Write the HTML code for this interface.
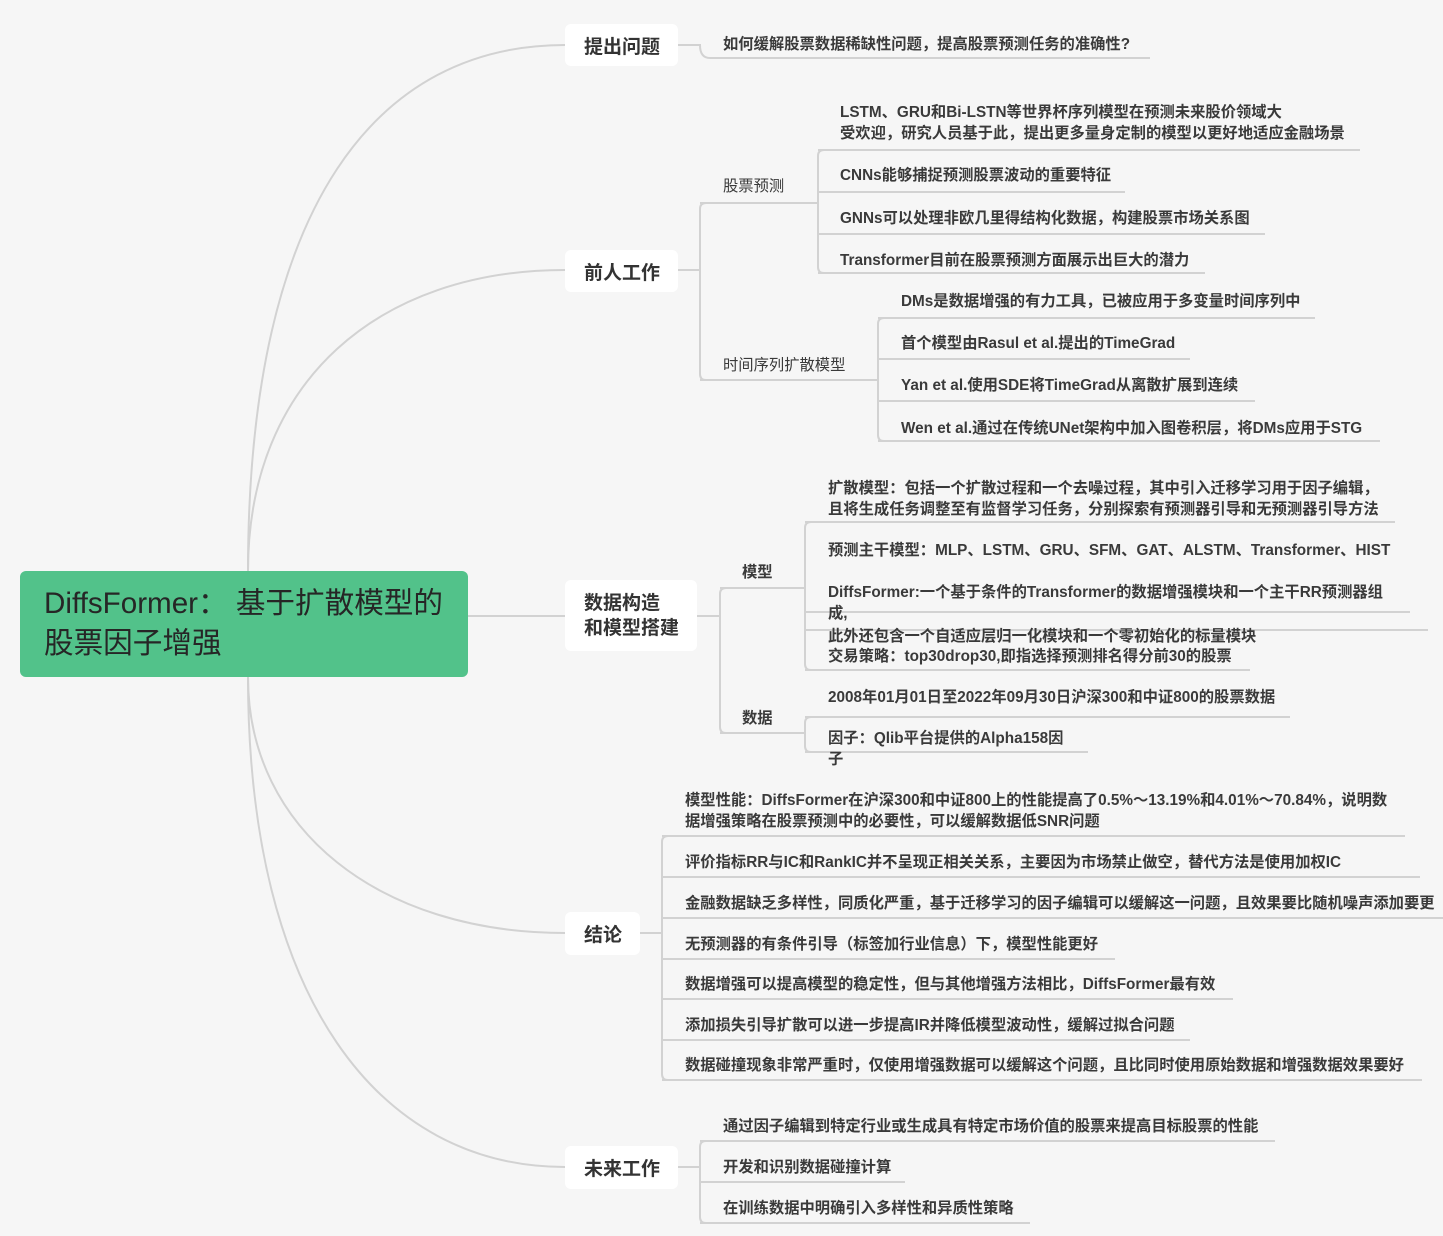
<!DOCTYPE html>
<html><head><meta charset="utf-8"><style>
body{margin:0;width:1443px;height:1236px;background:#f6f6f6;position:relative;overflow:hidden;font-family:"Liberation Sans","Noto Sans CJK SC",sans-serif;color:#333}
svg{position:absolute;left:0;top:0}
.t{position:absolute;font-size:15.3px;font-weight:bold;line-height:21px;white-space:nowrap;color:#3a3a3a}
.n{position:absolute;background:#fff;border-radius:6px;font-size:19px;color:#333;font-weight:bold;box-sizing:border-box;padding-left:19px;display:flex;align-items:center}
.root{position:absolute;left:20px;top:571px;width:448px;height:106px;background:#52c28a;border-radius:6px;font-size:29.6px;line-height:40px;color:#262626;box-sizing:border-box;padding:13px 24px}
</style></head><body>
<svg width="1443" height="1236" fill="none" stroke="#d2d2d2" stroke-width="2">
<path d="M248 571 C248 200 380 45 565 45"/>
<path d="M248 571 C248 380 380 270 565 270"/>
<path d="M468 616 L565 616"/>
<path d="M248 677 C248 830 380 933 565 933"/>
<path d="M248 677 C248 1000 380 1167 565 1167"/>
<path d="M678 45 L700 45 Q700 58 710 58 L1150 58"/>
<path d="M678 270 L700 270"/>
<path d="M706 203 Q700 203 700 209 L700 374 Q700 380 706 380"/>
<path d="M700 203 L815 203 M700 380 L878 380"/>
<path d="M815 203 L818 203 M824 150 Q818 150 818 156 L818 267 Q818 273 824 273"/>
<path d="M818 150 L1360 150 M818 192 L1125 192 M818 234 L1265 234 M818 273 L1205 273"/>
<path d="M884 318 Q878 318 878 324 L878 435 Q878 441 884 441"/>
<path d="M878 318 L1315 318 M878 359 L1190 359 M878 401 L1255 401 M878 441 L1380 441"/>
<path d="M697 616 L720 616 M726 588 Q720 588 720 594 L720 727 Q720 733 726 733"/>
<path d="M720 588 L805 588 M720 733 L805 733"/>
<path d="M811 522 Q805 522 805 528 L805 664 Q805 670 811 670"/>
<path d="M805 522 L1395 522 M805 612 L1410 612 M805 630 L1428 630 M805 670 L1250 670"/>
<path d="M811 717 Q805 717 805 723 L805 746 Q805 752 811 752"/>
<path d="M805 717 L1290 717 M805 752 L1088 752"/>
<path d="M640 933 L662 933 M668 836 Q662 836 662 842 L662 1074 Q662 1080 668 1080"/>
<path d="M662 836 L1405 836 M662 877 L1420 877 M662 918 L1443 918 M662 959 L1115 959 M662 999 L1233 999 M662 1040 L1190 1040 M662 1080 L1422 1080"/>
<path d="M678 1167 L700 1167 M706 1141 Q700 1141 700 1147 L700 1217 Q700 1223 706 1223"/>
<path d="M700 1141 L1275 1141 M700 1182 L905 1182 M700 1223 L1030 1223"/>
</svg>
<div class="root">DiffsFormer： 基于扩散模型的<br>股票因子增强</div>
<div class="n" style="left:565px;top:24px;width:113px;height:42px">提出问题</div>
<div class="n" style="left:565px;top:250px;width:113px;height:42px">前人工作</div>
<div class="n" style="left:565px;top:580px;width:132px;height:71px;line-height:25px">数据构造<br>和模型搭建</div>
<div class="n" style="left:565px;top:912px;width:75px;height:43px">结论</div>
<div class="n" style="left:565px;top:1146px;width:113px;height:43px">未来工作</div>

<div class="t" style="left:723px;top:34px">如何缓解股票数据稀缺性问题，提高股票预测任务的准确性?</div>
<div class="t" style="left:723px;top:176px;font-weight:normal">股票预测</div>
<div class="t" style="left:840px;top:102px">LSTM、GRU和Bi-LSTN等世界杯序列模型在预测未来股价领域大<br>受欢迎，研究人员基于此，提出更多量身定制的模型以更好地适应金融场景</div>
<div class="t" style="left:840px;top:165px">CNNs能够捕捉预测股票波动的重要特征</div>
<div class="t" style="left:840px;top:208px">GNNs可以处理非欧几里得结构化数据，构建股票市场关系图</div>
<div class="t" style="left:840px;top:250px">Transformer目前在股票预测方面展示出巨大的潜力</div>
<div class="t" style="left:723px;top:355px;font-weight:normal">时间序列扩散模型</div>
<div class="t" style="left:901px;top:291px">DMs是数据增强的有力工具，已被应用于多变量时间序列中</div>
<div class="t" style="left:901px;top:333px">首个模型由Rasul et al.提出的TimeGrad</div>
<div class="t" style="left:901px;top:375px">Yan et al.使用SDE将TimeGrad从离散扩展到连续</div>
<div class="t" style="left:901px;top:418px">Wen et al.通过在传统UNet架构中加入图卷积层，将DMs应用于STG</div>
<div class="t" style="left:742px;top:562px">模型</div>
<div class="t" style="left:828px;top:478px">扩散模型：包括一个扩散过程和一个去噪过程，其中引入迁移学习用于因子编辑，<br>且将生成任务调整至有监督学习任务，分别探索有预测器引导和无预测器引导方法</div>
<div class="t" style="left:828px;top:540px">预测主干模型：MLP、LSTM、GRU、SFM、GAT、ALSTM、Transformer、HIST</div>
<div class="t" style="left:828px;top:582px">DiffsFormer:一个基于条件的Transformer的数据增强模块和一个主干RR预测器组<br>成,</div>
<div class="t" style="left:828px;top:626px">此外还包含一个自适应层归一化模块和一个零初始化的标量模块</div>
<div class="t" style="left:828px;top:646px">交易策略：top30drop30,即指选择预测排名得分前30的股票</div>
<div class="t" style="left:742px;top:708px">数据</div>
<div class="t" style="left:828px;top:687px">2008年01月01日至2022年09月30日沪深300和中证800的股票数据</div>
<div class="t" style="left:828px;top:728px">因子：Qlib平台提供的Alpha158因<br>子</div>
<div class="t" style="left:685px;top:790px">模型性能：DiffsFormer在沪深300和中证800上的性能提高了0.5%～13.19%和4.01%～70.84%，说明数<br>据增强策略在股票预测中的必要性，可以缓解数据低SNR问题</div>
<div class="t" style="left:685px;top:852px">评价指标RR与IC和RankIC并不呈现正相关关系，主要因为市场禁止做空，替代方法是使用加权IC</div>
<div class="t" style="left:685px;top:893px">金融数据缺乏多样性，同质化严重，基于迁移学习的因子编辑可以缓解这一问题，且效果要比随机噪声添加要更</div>
<div class="t" style="left:685px;top:934px">无预测器的有条件引导（标签加行业信息）下，模型性能更好</div>
<div class="t" style="left:685px;top:974px">数据增强可以提高模型的稳定性，但与其他增强方法相比，DiffsFormer最有效</div>
<div class="t" style="left:685px;top:1015px">添加损失引导扩散可以进一步提高IR并降低模型波动性，缓解过拟合问题</div>
<div class="t" style="left:685px;top:1055px">数据碰撞现象非常严重时，仅使用增强数据可以缓解这个问题，且比同时使用原始数据和增强数据效果要好</div>
<div class="t" style="left:723px;top:1116px">通过因子编辑到特定行业或生成具有特定市场价值的股票来提高目标股票的性能</div>
<div class="t" style="left:723px;top:1157px">开发和识别数据碰撞计算</div>
<div class="t" style="left:723px;top:1198px">在训练数据中明确引入多样性和异质性策略</div>
</body></html>
